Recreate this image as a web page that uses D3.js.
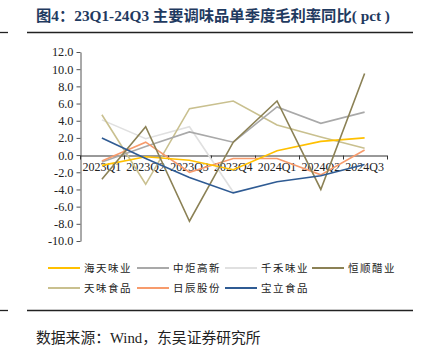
<!DOCTYPE html>
<html><head><meta charset="utf-8">
<script src="https://cdn.jsdelivr.net/npm/d3@7/dist/d3.min.js"></script>
<style>
body{margin:0;background:#fff;}
svg{display:block;}
</style></head>
<body><svg id="c" width="422" height="352"></svg>
<script>
const categories = ["2023Q1","2023Q2","2023Q3","2023Q4","2024Q1","2024Q2","2024Q3"];
const yTicks = [12,10,8,6,4,2,0,-2,-4,-6,-8,-10];
const names = ["海天味业","中炬高新","千禾味业","恒顺醋业","天味食品","日辰股份","宝立食品"];
const colors = ["#ffc000","#a9a9a9","#e0e0e0","#8b8155","#c9c08f","#f79b6c","#2f5b93"];
const haitian = [-1.2, -0.2, -0.6, -1.7, 0.5, 1.6, 2.0];
const zhongju = [-0.8, 1.0, 2.7, 1.5, 5.6, 3.7, 5.0];
const qianhe = [4.1, 1.9, 3.3, -4.3, null, null, null];
const hengshun = [-2.8, 3.3, -7.7, 1.5, 6.3, -4.0, 9.5];
const tianwei = [4.7, -3.4, 5.4, 6.3, 3.5, 2.1, 0.8];
const richen = [-0.7, 1.5, -2.0, -0.4, -0.4, -2.3, 0.6];
const baoli = [2.0, -0.4, -2.6, -4.4, -3.1, -2.4, -1.1];
const series = [haitian, zhongju, qianhe, hengshun, tianwei, richen, baoli];
const drawOrder = [2,4,1,5,0,3,6];

const svg = d3.select("#c");
const cjk = "'Liberation Serif','Noto Sans CJK SC',serif";
// title
svg.append("text").attr("x",36).attr("y",21).attr("font-family",cjk)
  .attr("font-weight","bold").attr("font-size",15.3).attr("fill","#1f3a60")
  .text("图4：23Q1-24Q3 主要调味品单季度毛利率同比( pct )");
svg.append("line").attr("x1",0).attr("x2",8).attr("y1",32.5).attr("y2",32.5).attr("stroke","#222").attr("stroke-width",1.3);
svg.append("line").attr("x1",27).attr("x2",413).attr("y1",32.5).attr("y2",32.5).attr("stroke","#222").attr("stroke-width",1.3);
svg.append("line").attr("x1",0).attr("x2",8).attr("y1",310.5).attr("y2",310.5).attr("stroke","#222").attr("stroke-width",1.3);
svg.append("line").attr("x1",27).attr("x2",413).attr("y1",310.5).attr("y2",310.5).attr("stroke","#222").attr("stroke-width",1.3);
svg.append("text").attr("x",36).attr("y",343).attr("font-family",cjk)
  .attr("font-size",14.8).attr("fill","#222").text("数据来源：Wind，东吴证券研究所");

const x = d3.scaleBand().domain(categories).range([80,386.5]);
const y = d3.scaleLinear().domain([-10,12]).range([241,52]);

// y axis
const ya = svg.append("g").attr("transform","translate(80.5,0)")
  .call(d3.axisLeft(y).tickValues(yTicks).tickSize(4).tickSizeOuter(0).tickFormat(d3.format(".1f")));
ya.select(".domain").attr("stroke","#555");
ya.selectAll(".tick line").attr("stroke","#555");
ya.selectAll("text").attr("font-family","'Liberation Serif',serif").attr("font-size",12.3).attr("fill","#222").attr("x",-7);
ya.selectAll(".tick text").text(d => d===0?"0.0":d3.format(".1f")(d).replace("−","-"));

// x axis at zero
const xa = svg.append("g").attr("transform",`translate(0,${Math.round(y(0))+0.5})`)
  .call(d3.axisBottom(x).tickSize(0).tickSizeOuter(0));
xa.select(".domain").attr("stroke","#333");
xa.selectAll("text").attr("font-family","'Liberation Serif',serif").attr("font-size",12).attr("fill","#222").attr("dy","0.95em").attr("y",4);
const bounds = categories.map(c => x(c)).concat([x.range()[1]]);
xa.selectAll(".bt").data(bounds).join("line").attr("class","bt")
  .attr("x1",d=>Math.round(d)+0.5).attr("x2",d=>Math.round(d)+0.5).attr("y1",0).attr("y2",4).attr("stroke","#333");

const line = d3.line().defined(d => d!=null)
  .x((d,i) => x(categories[i]) + x.bandwidth()/2).y(d => y(d));
drawOrder.forEach(k => {
  svg.append("path").datum(series[k]).attr("fill","none").attr("stroke",colors[k])
    .attr("stroke-width",1.6).attr("d",line);
});

// legend
const lx = [48,137,225,312], ly = [268,288];
names.forEach((n,i) => {
  const r = Math.floor(i/4), c = i%4;
  const g = svg.append("g").attr("transform",`translate(${lx[c]},${ly[r]})`);
  g.append("line").attr("x1",0).attr("x2",32).attr("y1",0).attr("y2",0).attr("stroke",colors[i]).attr("stroke-width",2);
  g.append("text").attr("x",36).attr("y",4).attr("font-family",cjk).attr("font-size",10.5)
    .attr("letter-spacing",1.5).attr("fill","#222").text(n);
});
</script></body></html>
